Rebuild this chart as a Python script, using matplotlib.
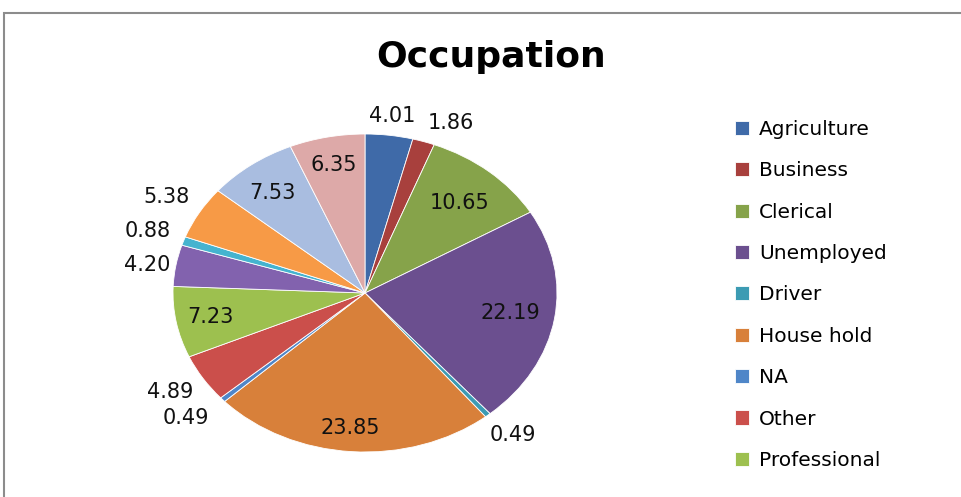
import numpy as np
import matplotlib.pyplot as plt
from matplotlib.patches import Rectangle

# Data (clockwise from 12 o'clock)
values = [4.01, 1.86, 10.65, 22.19, 0.49, 23.85, 0.49, 4.89, 7.23,
          4.20, 0.88, 5.38, 7.53, 6.35]
legend_names = ["Agriculture", "Business", "Clerical", "Unemployed", "Driver",
                "House hold", "NA", "Other", "Professional"]
colors = ['#3F6AA8', '#A8403D', '#86A34A', '#6B4F8F', '#3C9BB3',
          '#D8803A', '#4F86C8', '#CB4F4B', '#9DC04F',
          '#8262AE', '#45B3CF', '#F79A46', '#A9BDE0', '#DDA9A8']
title = "Occupation"

# label placement style (radius factor, angle shift in degrees)
label_r = [1.12, 1.16, 0.75, 0.77, 1.18, 0.85, 1.22, 1.19, 0.82,
           1.15, 1.20, 1.20, 0.79, 0.82]
label_shift = [0, -5, -1, 0, 1, -1, -2, -1, 0, 1, 0, 0, 1, 0]

W, H = 962, 497
fig = plt.figure(figsize=(W / 100, H / 100), dpi=100, facecolor='white')

# chart frame (only top and left visible)
fig.patches.append(Rectangle((4 / W, -0.2), 1.3, 1.2 - 13 / H, transform=fig.transFigure,
                             fill=False, edgecolor='#8c8c8c', linewidth=1.5))

# pie drawn as ellipse: axes box sets horizontal / vertical radius
cx, cy, rx, ry = 365, 293, 192, 159
ax = fig.add_axes([(cx - rx) / W, (H - cy - ry) / H, 2 * rx / W, 2 * ry / H])
wedges, _ = ax.pie(values, colors=colors, startangle=90, counterclock=False,
                   wedgeprops=dict(edgecolor='white', linewidth=0.6))
ax.set_aspect('auto')
ax.set_xlim(-1, 1)
ax.set_ylim(-1, 1)
ax.axis('off')

cum = np.cumsum([0] + values)
total = cum[-1]
for i, v in enumerate(values):
    mid = (cum[i] + cum[i + 1]) / 2 / total * 360
    theta = np.deg2rad(90 - mid + label_shift[i])
    ax.text(label_r[i] * np.cos(theta), label_r[i] * np.sin(theta), f'{v:.2f}',
            ha='center', va='center', fontsize=15, color='#111111',
            family='DejaVu Sans', clip_on=False)

fig.text(491 / W, 1 - 57 / H, title, ha='center', va='center', fontsize=26,
         fontweight='bold', family='DejaVu Sans')

fig.legend(wedges[:9], legend_names, loc='upper left',
           bbox_to_anchor=(727 / W, 1 - 112 / H), frameon=False,
           fontsize=14.5, handlelength=0.7, handleheight=0.7, handletextpad=0.5,
           labelspacing=1.11, borderaxespad=0)

fig.savefig('out.png', dpi=100, facecolor='white')
